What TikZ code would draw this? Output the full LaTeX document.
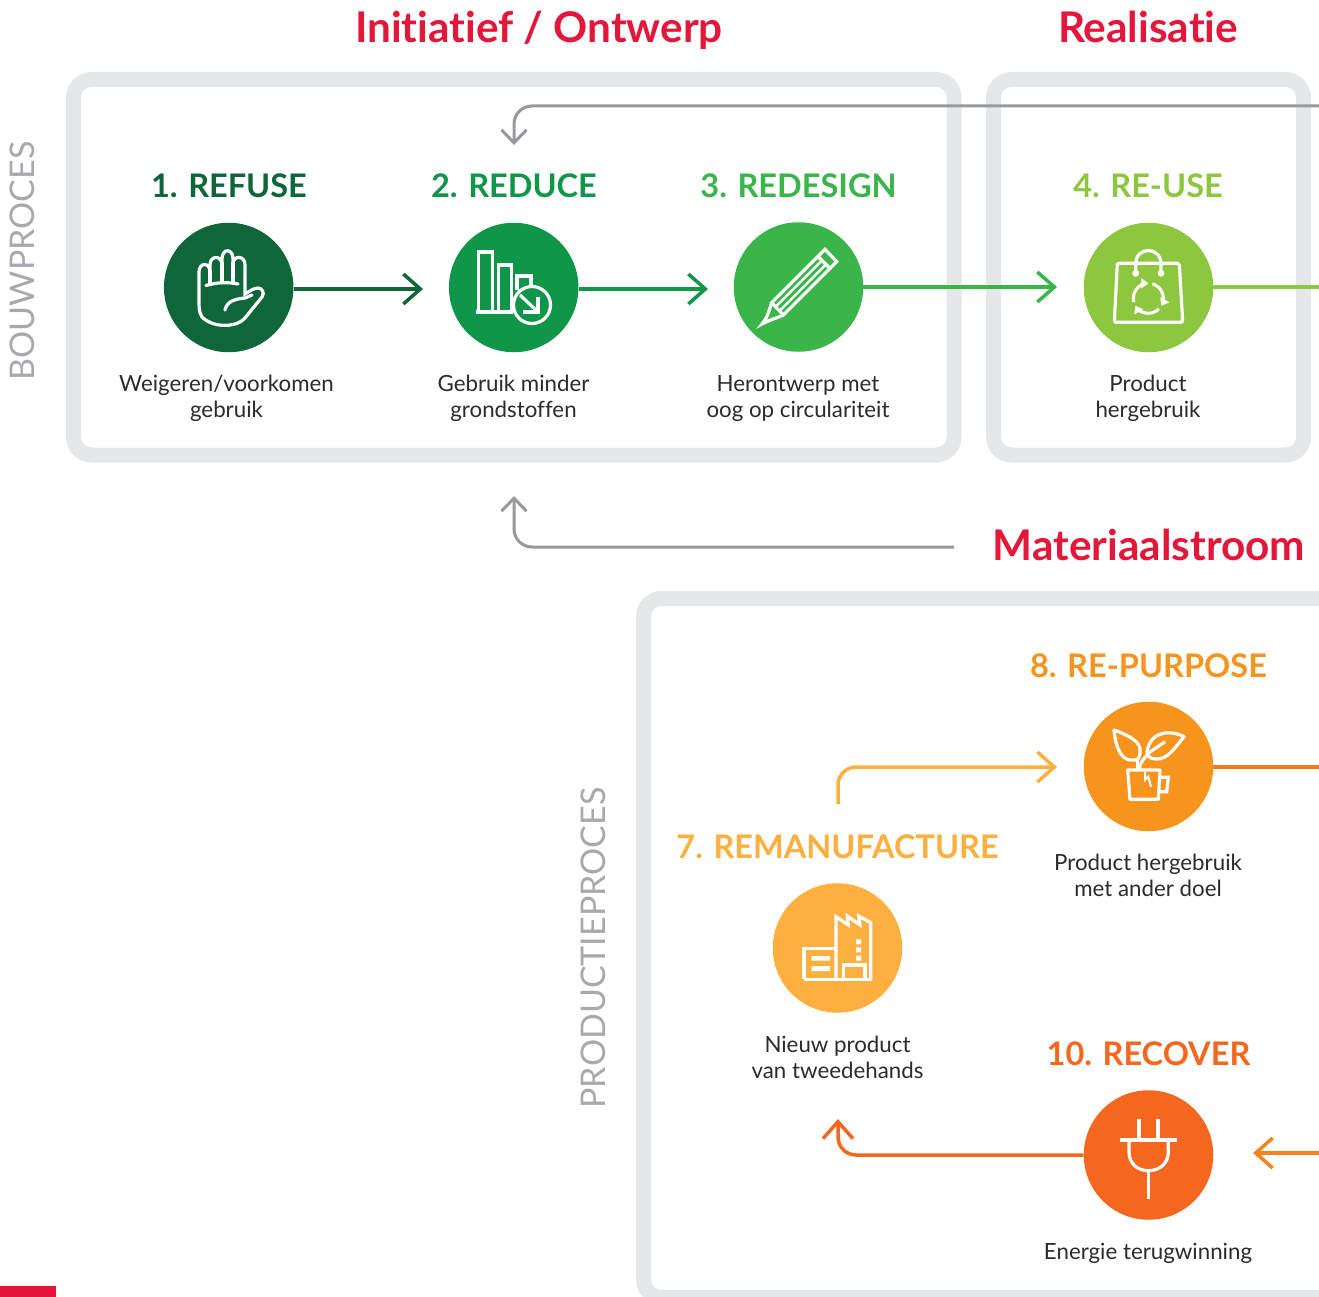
\documentclass[tikz,border=0pt]{standalone}
\usepackage{fontspec}
\setmainfont{Lato}[Ligatures=NoCommon]
\usetikzlibrary{arrows.meta}

\definecolor{refusegreen}{HTML}{0F6638}
\definecolor{reducegreen}{HTML}{0F9648}
\definecolor{redesigngreen}{HTML}{3AB54A}
\definecolor{reusegreen}{HTML}{8DC63F}
\definecolor{purposeorange}{HTML}{F7941E}
\definecolor{remanuorange}{HTML}{FDB040}
\definecolor{recoverorange}{HTML}{F5671F}
\definecolor{framegray}{HTML}{E6E7E8}
\definecolor{linegray}{HTML}{97999C}
\definecolor{sidegray}{HTML}{A7A9AC}
\definecolor{titlered}{HTML}{E4173A}
\definecolor{bodytext}{HTML}{2B2B2B}

\tikzset{
  frame/.style={draw=framegray,line width=15pt,rounded corners=18pt},
  stage/.style={circle,fill=#1,minimum size=129.5pt,inner sep=0pt},
  head/.style={anchor=base,inner sep=0pt,text=#1,font=\fontsize{32.5}{38}\selectfont\bfseries},
  desc/.style={anchor=base,inner sep=0pt,align=center,text=bodytext,font=\fontsize{22.3}{26}\selectfont},
  bigtitle/.style={anchor=base,inner sep=0pt,text=titlered,font=\fontsize{42.3}{48}\selectfont\bfseries},
  side/.style={anchor=base,rotate=90,inner sep=0pt,text=sidegray,font=\fontsize{34}{40}\selectfont},
  flow/.style={draw=#1,line width=3.5pt,-{Straight Barb[length=17pt,width=30pt,line width=3.5pt]}},
  back/.style={draw=linegray,line width=3pt,rounded corners=18pt,-{Straight Barb[length=13pt,width=25pt,line width=3pt]}},
  icon/.style={draw=white,line width=3.2pt,line join=miter},
}

\begin{document}
\begin{tikzpicture}[x=1pt,y=-1pt]
    \useasboundingbox (0,0) rectangle (1319,1297);
    \clip (0,0) rectangle (1319,1297);

    % frames
    \draw[frame] (73.5,79.5) rectangle (954,455);
    \draw[frame] (993.5,79.5) rectangle (1303.5,455);
    \draw[frame] (643.5,598.5) rectangle (1360,1297.5);
    \fill[titlered] (0,1286) rectangle (56,1297);

    % stages
    \node[stage=refusegreen] (refuse) at (228.7,287.5) {};
    \node[stage=reducegreen] (reduce) at (513.7,287.5) {};
    \node[stage=redesigngreen] (redesign) at (798.5,287) {};
    \node[stage=reusegreen] (reuse) at (1148.5,287.5) {};
    \node[stage=purposeorange] (purpose) at (1148.5,766.5) {};
    \node[stage=remanuorange] (remanu) at (837.5,948) {};
    \node[stage=recoverorange] (recover) at (1148.5,1155) {};

    % titles and labels
    \node[bigtitle] (titleA) at (539,43) {Initiatief / Ontwerp};
    \node[bigtitle] (titleB) at (1148,43) {Realisatie};
    \node[bigtitle] (titleC) at (1149,560) {Materiaalstroom};
    \node[side] (sideA) at (34.5,261) {BOUWPROCES};
    \node[side] (sideB) at (605,948) {PRODUCTIEPROCES};

    \node[head=refusegreen] (headRefuse) at (229,198) {1. REFUSE};
    \node[head=reducegreen] (headReduce) at (514,198) {2. REDUCE};
    \node[head=redesigngreen] (headRedesign) at (798.5,198) {3. REDESIGN};
    \node[head=reusegreen] (headReuse) at (1148,198) {4. RE-USE};
    \node[head=purposeorange] (headPurpose) at (1148.5,677) {8. RE-PURPOSE};
    \node[head=remanuorange] (headRemanu) at (837.5,858) {7. REMANUFACTURE};
    \node[head=recoverorange] (headRecover) at (1148.5,1065) {10. RECOVER};

    \node[desc] (descRefuse) at (226.5,417) {Weigeren/voorkomen\\gebruik};
    \node[desc] (descReduce) at (513.5,417) {Gebruik minder\\grondstoffen};
    \node[desc] (descRedesign) at (798,417) {Herontwerp met\\oog op circulariteit};
    \node[desc] (descReuse) at (1148,417) {Product\\hergebruik};
    \node[desc] (descPurpose) at (1148,896) {Product hergebruik\\met ander doel};
    \node[desc] (descRemanu) at (837.5,1078) {Nieuw product\\van tweedehands};
    \node[desc] (descRecover) at (1148,1259) {Energie terugwinning};

    % free ends of the connectors
    \coordinate (endA) at (423,289);
    \coordinate (endB) at (708,289);
    \coordinate (endC) at (1057,287);
    \coordinate (endD) at (1319,287);
    \coordinate (endE) at (1319,767);
    \coordinate (topIn) at (1319,106);
    \coordinate (topOut) at (514,145);
    \coordinate (midIn) at (954,547);
    \coordinate (midOut) at (514,496);
    \coordinate (manuIn) at (838,804);
    \coordinate (manuOut) at (1057,767);
    \coordinate (recOut) at (838,1119);
    \coordinate (recIn) at (1319,1153);
    \coordinate (recTip) at (1253,1153);

    % connectors
    \draw[flow=refusegreen] (refuse.east |- endA) -- (endA);
    \draw[flow=reducegreen] (reduce.east |- endB) -- (endB);
    \draw[flow=redesigngreen] (redesign.east |- endC) -- (endC);
    \draw[draw=reusegreen,line width=3.5pt] (reuse.east |- endD) -- (endD);
    \draw[draw=recoverorange!60!purposeorange,line width=3.5pt] (purpose.east |- endE) -- (endE);
    \draw[back] (topIn) -| (topOut);
    \draw[back] (midIn) -| (midOut);
    \draw[flow=remanuorange,rounded corners=18pt] (manuIn) |- (manuOut);
    \draw[flow=recoverorange,rounded corners=18pt] (recover.west) -| (recOut);
    \draw[flow=recoverorange!35!purposeorange] (recIn) -- (recTip);

    % hand
    \draw[icon,line cap=round] (202,317) .. controls (199,312) and (199,308) .. (199,300) -- (199,272)
      .. controls (199,262) and (210,262) .. (210,272) -- (210,265)
      .. controls (210,255) and (222,255) .. (222,265) -- (222,259)
      .. controls (222,248) and (233,248) .. (233,259) -- (233,264)
      .. controls (233,255) and (245,255) .. (245,265) -- (245,294)
      .. controls (250,291) and (254,288) .. (258,288)
      .. controls (262,288) and (265,293) .. (262,297) -- (245,318)
      .. controls (238,327) and (214,329) .. (202,317);
    \draw[icon,line cap=round] (225,310) .. controls (227,301) and (235,299) .. (245,298) -- (252,295);
    \draw[icon,line cap=round] (206,285.5) .. controls (218,282) and (228,282) .. (238,284);
    \draw[icon] (210,284) -- (210,270) (222,283) -- (222,262) (233,283) -- (233,262);

    % bars
    \draw[icon] (478.5,312) |- (492.5,252) -- (492.5,312);
    \draw[icon] (498.5,312) |- (511.5,265) -- (511.5,312);
    \draw[icon] (517,290) |- (531,276) -- (531,286);
    \draw[icon] (475.5,312) -- (513,312);
    \draw[icon] (532,305) circle[radius=18.5];
    \draw[icon] (520,295) -- (538,312);
    \draw[icon] (523,312) -- (538,312) -- (538,297);

    % pencil
    \draw[icon] (771.7,302.7) -- (825,249.3) -- (836.7,261.7) -- (783.3,315) -- cycle;
    \draw[icon] (818,256.5) -- (830,268.5);
    \draw[draw=white,line width=2.4pt] (775.6,306.8) -- (822,260.3);
    \draw[draw=white,line width=2.4pt] (779.5,311) -- (826,264.4);
    \draw[icon,line cap=round] (771.7,302.7) .. controls (769,310) and (768,317) .. (762,324)
      .. controls (769,320) and (777,318) .. (783.3,315);

    % bag
    \draw[icon,rounded corners=2pt] (1117.3,263.3) -- (1179.3,263.3) -- (1182.7,322.3) -- (1114.3,322.3) -- cycle;
    \draw[icon] (1135.7,273) -- (1135.7,264) .. controls (1135.7,246) and (1161,246) .. (1161,264) -- (1161,273);
    \fill[white] (1135.7,273.3) circle[radius=3.4] (1161,273.3) circle[radius=3.4];
    \foreach \ang in {-75,45,165}
      \draw[draw=white,line width=3pt,-{Triangle[length=7pt,width=10pt]}] (1148.3,298.3) ++(\ang:15) arc[start angle=\ang,delta angle=105,radius=15];

    % plant
    \draw[icon,line join=round] (1114,730) .. controls (1128,735) and (1142,742) .. (1140,752) .. controls (1140,757) and (1138,760) .. (1135,760)
      .. controls (1122,762) and (1116,750) .. (1114,730) -- cycle;
    \draw[icon,line join=round] (1184,736.7) .. controls (1172,730) and (1150,730) .. (1147,752) .. controls (1147,756) and (1150,759) .. (1156,759)
      .. controls (1168,760) and (1176,746) .. (1184,736.7) -- cycle;
    \draw[icon] (1165,741.7) -- (1150,752) .. controls (1144,758) and (1140,762) .. (1139,770);
    \draw[icon] (1137.5,760) -- (1137.5,770);
    \draw[icon,line join=round] (1127.7,770) -- (1160,770) -- (1158.3,799.3) -- (1130,799.3) -- cycle;
    \draw[icon] (1160,777.3) -- (1168.3,777.3) -- (1166.7,791.7) -- (1159,791.7);
    \draw[draw=white,line width=2pt] (1145,772) -- (1145,780) -- (1148.3,776.7) -- (1151,786.7);

    % factory
    \draw[icon] (836,979) -- (836,916.7) -- (848.3,925) -- (847.3,916) -- (860,925) -- (858.7,916) -- (870.7,922.7) -- (870.7,979.3);
    \draw[icon] (804,979.3) -- (871.7,979.3);
    \draw[icon] (836,948.3) -| (804,979.3);
    \fill[white] (811.7,956) rectangle (830,960.7) (811.7,966) rectangle (830,971);
    \draw[icon] (843.3,979) |- (865,965) -- (865,979);
    \fill[white] (856,939.3) rectangle (861,944.3) (856,947.3) rectangle (861,952.3) (856,955.7) rectangle (861,960.7);

    % plug
    \draw[icon] (1139,1119) -- (1139,1140) (1158,1119) -- (1158,1140);
    \draw[icon] (1120,1140) -- (1176.7,1140);
    \draw[icon] (1129,1140) -- (1129,1152) .. controls (1129,1163) and (1137,1170.7) .. (1148.3,1170.7)
      .. controls (1160,1170.7) and (1168.3,1163) .. (1168.3,1152) -- (1168.3,1140);
    \draw[icon] (1148.3,1170.7) -- (1148.3,1199);
\end{tikzpicture}
\end{document}
